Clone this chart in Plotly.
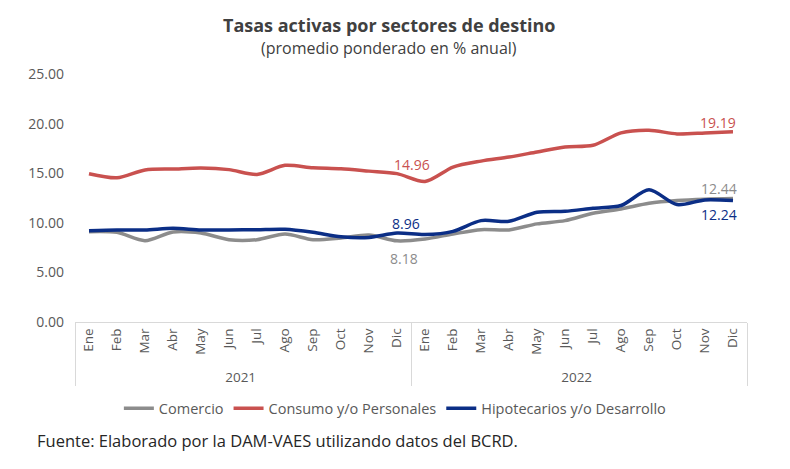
import plotly.graph_objects as go

years = ["2021"] * 12 + ["2022"] * 12
months = ["Ene", "Feb", "Mar", "Abr", "May", "Jun", "Jul", "Ago", "Sep", "Oct", "Nov", "Dic"] * 2

comercio = [9.11, 9.04, 8.20, 9.08, 8.97, 8.30, 8.30, 8.87, 8.30, 8.47, 8.77, 8.18,
            8.37, 8.87, 9.31, 9.28, 9.89, 10.22, 10.96, 11.40, 11.97, 12.25, 12.38, 12.44]
consumo = [14.95, 14.54, 15.33, 15.42, 15.52, 15.36, 14.88, 15.79, 15.55, 15.45, 15.21, 14.96,
           14.17, 15.62, 16.22, 16.63, 17.14, 17.64, 17.81, 19.06, 19.33, 18.96, 19.06, 19.19]
hipotecarios = [9.21, 9.28, 9.28, 9.45, 9.28, 9.28, 9.31, 9.35, 9.04, 8.60, 8.53, 8.96,
                8.81, 9.14, 10.22, 10.15, 11.06, 11.16, 11.47, 11.74, 13.33, 11.84, 12.31, 12.24]

names = ["Comercio", "Consumo y/o Personales", "Hipotecarios y/o Desarrollo"]
colors = ["#8C8C8C", "#C9514F", "#0B2E86"]
series = [comercio, consumo, hipotecarios]

FONT = "Open Sans"
fig = go.Figure()
for name, col, vals in zip(names, colors, series):
    fig.add_trace(go.Scatter(
        x=[years, months], y=vals, name=name, mode="lines",
        line=dict(color=col, width=3.5, shape="spline", smoothing=0.8),
        hoverinfo="skip"))

n = len(months)
def px_x(i):
    return (i + 0.5) / n

# data labels: (series index, point index, dx, dy)
label_specs = [(1, 11, 15, -9), (2, 11, 9, -10), (0, 11, 7, 18),
               (1, 23, 5, -9), (0, 23, 6, -10), (2, 23, 6, 14)]
for si, pi, dx, dy in label_specs:
    fig.add_annotation(x=px_x(pi), xref="paper", y=series[si][pi], yref="y",
                       text=f"{series[si][pi]:.2f}", showarrow=False,
                       xshift=dx, yshift=-dy,
                       font=dict(family=FONT, size=14, color=colors[si]))

fig.add_annotation(x=0.468, xref="paper", y=1.198, yref="paper",
                   text="Tasas activas por sectores de destino", showarrow=False,
                   xanchor="center", yanchor="middle",
                   font=dict(family=FONT, size=18, color="#404040", weight="bold"))
fig.add_annotation(x=0.468, xref="paper", y=1.103, yref="paper",
                   text="(promedio ponderado en % anual)", showarrow=False,
                   xanchor="center", yanchor="middle",
                   font=dict(family=FONT, size=16, color="#404040"))
fig.add_annotation(x=-0.06, xref="paper", y=-0.478, yref="paper",
                   text="Fuente: Elaborado por la DAM-VAES utilizando datos del BCRD.",
                   showarrow=False, xanchor="left", yanchor="middle",
                   font=dict(family=FONT, size=16.5, color="#262626"))

fig.update_layout(
    width=790, height=469,
    margin=dict(l=75, r=43, t=74, b=147),
    paper_bgcolor="white", plot_bgcolor="white",
    showlegend=True,
    legend=dict(orientation="h", x=0.476, xanchor="center", y=-0.348, yanchor="middle",
                font=dict(family=FONT, size=14.5, color="#595959"),
                itemwidth=30, tracegroupgap=0),
    xaxis=dict(type="multicategory", tickangle=-90, showgrid=False,
               range=[-0.5, n - 0.5],
               showline=True, linecolor="#D9D9D9", linewidth=1,
               showdividers=True, dividercolor="#D9D9D9", dividerwidth=1,
               ticks="", tickfont=dict(family=FONT, size=13.5, color="#595959")),
    yaxis=dict(range=[0, 25], dtick=5, tickformat=".2f", showgrid=False,
               zeroline=False, showline=False, ticks="", ticklabelstandoff=10,
               tickfont=dict(family=FONT, size=14, color="#595959")),
)

fig.write_html("out.html")
